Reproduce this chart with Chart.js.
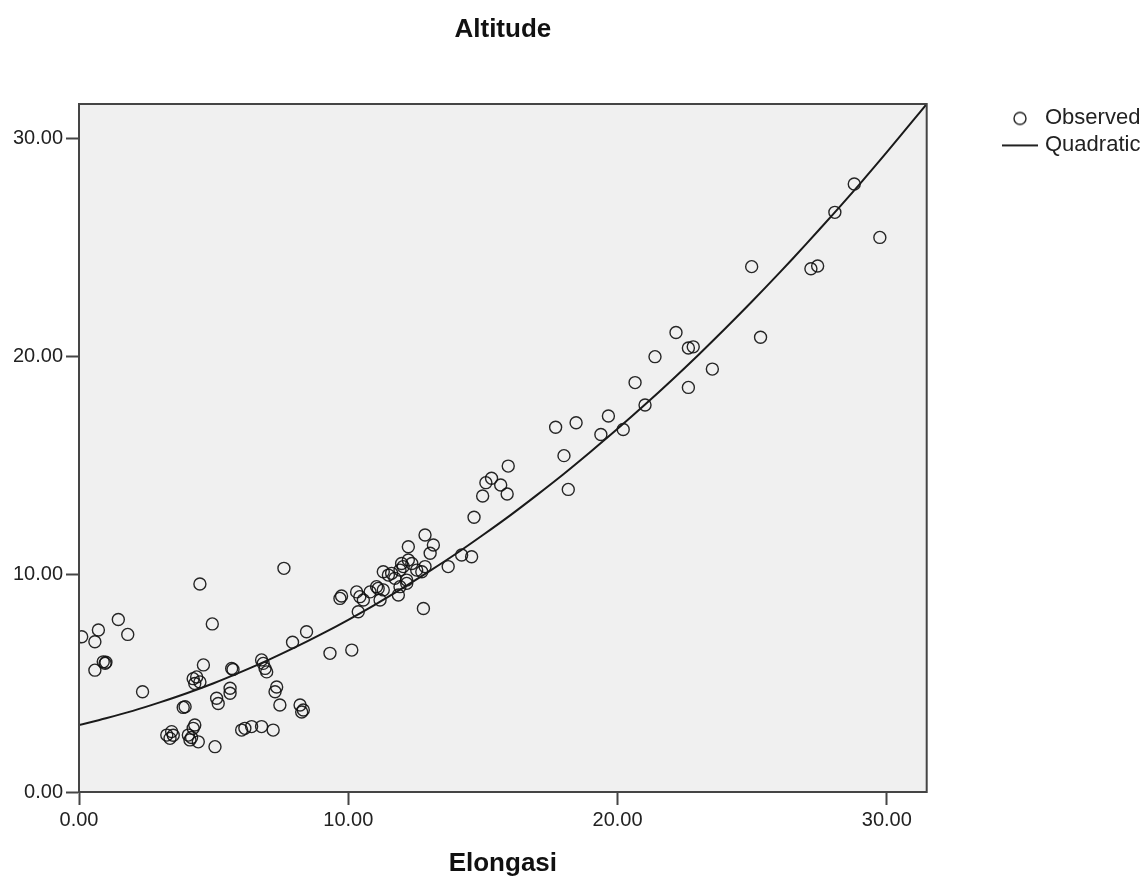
<!DOCTYPE html>
<html>
<head>
<meta charset="utf-8">
<script src="https://cdn.jsdelivr.net/npm/chart.js@4/dist/chart.umd.min.js"></script>
<style>
  html, body { margin: 0; padding: 0; background: #ffffff; }
  #wrap { width: 1148px; height: 884px; position: relative; }
</style>
</head>
<body>
<div id="wrap"><canvas id="c" width="1148" height="884"></canvas></div>
<script>
// ---- Data ----
const chartTitle = 'Altitude';
const xAxisTitle = 'Elongasi';
const legendLabels = ['Observed', 'Quadratic'];

const xTickValues = [0, 10, 20, 30];
const xTickLabels = ['0.00', '10.00', '20.00', '30.00'];
const yTickValues = [0, 10, 20, 30];
const yTickLabels = ['0.00', '10.00', '20.00', '30.00'];

// Observed points (Elongasi, Altitude)
const obsX = [
  0.10, 0.72, 0.59, 1.46, 1.81, 0.59, 0.90, 0.97, 1.00, 2.36,
  3.26, 3.44, 3.38, 3.50, 3.94, 3.87,
  4.06, 4.24, 4.30, 4.12, 4.43, 4.18,
  4.62, 4.24, 4.37, 4.49, 4.30,
  4.49, 4.95,
  5.11, 5.17, 5.61, 5.61, 5.05, 5.67, 5.72,
  6.04, 6.16, 6.41, 6.78, 7.21,
  6.78, 6.84, 6.91, 6.97,
  7.34, 7.28, 7.46,
  7.61, 7.93, 8.45,
  8.21, 8.33, 8.27,
  9.32, 10.13,
  9.75, 9.69,
  10.31, 10.43, 10.56, 10.37,
  10.81, 11.05, 11.18, 11.30,
  11.30, 11.49, 11.61, 11.73, 11.92, 11.86, 12.17,
  11.98, 12.23, 12.36, 12.23, 11.92,
  12.54, 12.85, 12.73,
  12.85, 13.04, 13.16,
  12.79,
  11.11, 12.04, 12.17,
  13.71, 14.21, 14.58,
  14.67, 14.99, 15.11, 15.32, 15.66, 15.94, 15.90,
  17.70, 18.46, 18.01, 18.17,
  19.38, 19.66, 20.21, 20.65, 21.02, 21.39,
  22.17, 22.63, 22.81, 22.63, 23.52,
  24.98, 25.31, 27.18, 27.43, 28.07, 28.79, 29.74
];
const obsY = [
  7.12, 7.43, 6.89, 7.91, 7.23, 5.59, 5.97, 5.90, 5.95, 4.60,
  2.61, 2.77, 2.46, 2.60, 3.91, 3.88,
  2.61, 2.92, 3.07, 2.39, 2.30, 2.50,
  5.83, 5.20, 5.28, 5.05, 4.98,
  9.54, 7.71,
  4.30, 4.06, 4.76, 4.53, 2.08, 5.67, 5.62,
  2.84, 2.92, 3.00, 3.00, 2.84,
  6.06, 5.90, 5.67, 5.51,
  4.82, 4.60, 3.99,
  10.26, 6.87, 7.35,
  3.99, 3.76, 3.67,
  6.36, 6.51,
  8.99, 8.88,
  9.18, 8.96, 8.81, 8.27,
  9.18, 9.42, 8.81, 9.27,
  10.10, 9.95, 10.03, 9.80, 9.42, 9.04, 9.72,
  10.48, 10.64, 10.48, 11.25, 10.18,
  10.18, 10.34, 10.10,
  11.79, 10.95, 11.33,
  8.42,
  9.34, 10.34, 9.57,
  10.34, 10.87, 10.79,
  12.60, 13.58, 14.19, 14.39, 14.08, 14.95, 13.67,
  16.73, 16.94, 15.43, 13.88,
  16.40, 17.25, 16.63, 18.78, 17.75, 19.97,
  21.08, 20.37, 20.42, 18.56, 19.40,
  24.10, 20.86, 24.00, 24.13, 26.59, 27.89, 25.44
];

// Quadratic fit curve
const fitX = [0, 1, 2, 3, 4, 5, 6, 7, 8, 9, 10, 11, 12, 13, 14, 15, 16, 17, 18, 19, 20, 21, 22, 23, 24, 25, 26, 27, 28, 29, 30, 31, 31.48];
const fitY = [3.07, 3.38, 3.72, 4.11, 4.53, 4.99, 5.50, 6.04, 6.62, 7.24, 7.90, 8.60, 9.34, 10.12, 10.93, 11.79, 12.68, 13.62, 14.59, 15.61, 16.66, 17.75, 18.88, 20.05, 21.26, 22.51, 23.80, 25.13, 26.50, 27.90, 29.35, 30.84, 31.56];

const xMin = 0, xMax = 31.48;
const yMin = 0, yMax = 31.56;

// ---- Build chart ----
const FONT = "'Liberation Sans', Arial, Helvetica, sans-serif";
const INK = '#222222';
const AXIS = '#454545';

function makeCircleIcon() {
  const c = document.createElement('canvas');
  c.width = 16; c.height = 16;
  const g = c.getContext('2d');
  g.strokeStyle = INK; g.lineWidth = 1.4;
  g.beginPath(); g.arc(8, 8, 6, 0, Math.PI * 2); g.stroke();
  return c;
}
function makeLineIcon() {
  const c = document.createElement('canvas');
  c.width = 38; c.height = 4;
  const g = c.getContext('2d');
  g.strokeStyle = INK; g.lineWidth = 2;
  g.beginPath(); g.moveTo(1, 2); g.lineTo(37, 2); g.stroke();
  return c;
}
const legendIcons = [makeCircleIcon(), makeLineIcon()];

const observed = obsX.map((x, i) => ({ x: x, y: obsY[i] }));
const fitted = fitX.map((x, i) => ({ x: x, y: fitY[i] }));

const plotFrame = {
  id: 'plotFrame',
  beforeDraw(chart) {
    const a = chart.chartArea, ctx = chart.ctx;
    ctx.save();
    ctx.fillStyle = '#f0f0f0';
    ctx.fillRect(a.left, a.top, a.right - a.left, a.bottom - a.top);
    ctx.restore();
  },
  afterDraw(chart) {
    const a = chart.chartArea, ctx = chart.ctx;
    ctx.save();
    ctx.strokeStyle = AXIS; ctx.lineWidth = 2;
    ctx.strokeRect(a.left, a.top, a.right - a.left, a.bottom - a.top);
    ctx.restore();
  },
  afterLayout(chart) {
    const lg = chart.legend;
    if (lg) {
      const w = lg.width, h = lg.height;
      lg.left = 1001; lg.right = lg.left + w;
      lg.top = 102.4; lg.bottom = lg.top + h;
    }
  }
};

new Chart(document.getElementById('c'), {
  type: 'scatter',
  data: {
    datasets: [
      {
        label: legendLabels[0],
        data: observed,
        pointStyle: 'circle',
        pointRadius: 6,
        pointHoverRadius: 6,
        pointBorderWidth: 1.4,
        pointBorderColor: 'rgba(15,15,15,0.9)',
        pointBackgroundColor: 'rgba(0,0,0,0)',
        showLine: false,
        clip: 0,
        order: 1
      },
      {
        label: legendLabels[1],
        type: 'line',
        data: fitted,
        borderColor: '#1a1a1a',
        borderWidth: 2,
        pointRadius: 0,
        pointHoverRadius: 0,
        fill: false,
        tension: 0.3,
        clip: 0,
        order: 0
      }
    ]
  },
  options: {
    responsive: false,
    animation: false,
    devicePixelRatio: 1,
    layout: { padding: { left: 0, right: 221.3, top: 0, bottom: 0 } },
    plugins: {
      tooltip: { enabled: false },
      title: {
        display: true,
        text: chartTitle,
        fullSize: false,
        color: '#111',
        font: { family: FONT, size: 26, weight: 'bold', lineHeight: 1.2 },
        padding: { top: 14.4, bottom: 58.4 }
      },
      legend: {
        display: true,
        position: 'chartArea',
        align: 'start',
        labels: {
          usePointStyle: true,
          pointStyleWidth: 28,
          boxHeight: 12,
          padding: 5,
          color: INK,
          font: { family: FONT, size: 22, lineHeight: 1.1 },
          generateLabels(chart) {
            return chart.data.datasets.map((ds, i) => ({
              text: ds.label,
              datasetIndex: i,
              pointStyle: legendIcons[i],
              fillStyle: 'rgba(0,0,0,0)',
              strokeStyle: INK,
              lineWidth: 0,
              hidden: false,
              fontColor: INK
            }));
          }
        }
      }
    },
    scales: {
      x: {
        type: 'linear',
        position: 'bottom',
        min: xMin,
        max: xMax,
        afterFit(scale) { scale.height = 92; },
        afterBuildTicks(scale) { scale.ticks = xTickValues.map(v => ({ value: v })); },
        ticks: {
          autoSkip: false,
          maxRotation: 0,
          padding: 3,
          color: INK,
          font: { family: FONT, size: 20 },
          callback: (v, i) => xTickLabels[i]
        },
        grid: { display: true, drawOnChartArea: false, drawTicks: true, tickLength: 13, tickColor: AXIS, tickWidth: 2 },
        border: { display: true, color: AXIS, width: 2 },
        title: {
          display: true,
          text: xAxisTitle,
          color: '#111',
          font: { family: FONT, size: 26, weight: 'bold', lineHeight: 1.2 },
          padding: { top: 0, bottom: 4.4 }
        }
      },
      y: {
        type: 'linear',
        position: 'left',
        min: yMin,
        max: yMax,
        afterFit(scale) { scale.width = 79; },
        afterBuildTicks(scale) { scale.ticks = yTickValues.map(v => ({ value: v })); },
        ticks: {
          autoSkip: false,
          padding: 3,
          color: INK,
          font: { family: FONT, size: 20 },
          callback: (v, i) => yTickLabels[i]
        },
        grid: { display: true, drawOnChartArea: false, drawTicks: true, tickLength: 13, tickColor: AXIS, tickWidth: 2 },
        border: { display: true, color: AXIS, width: 2 }
      }
    }
  },
  plugins: [plotFrame]
});
</script>
</body>
</html>
